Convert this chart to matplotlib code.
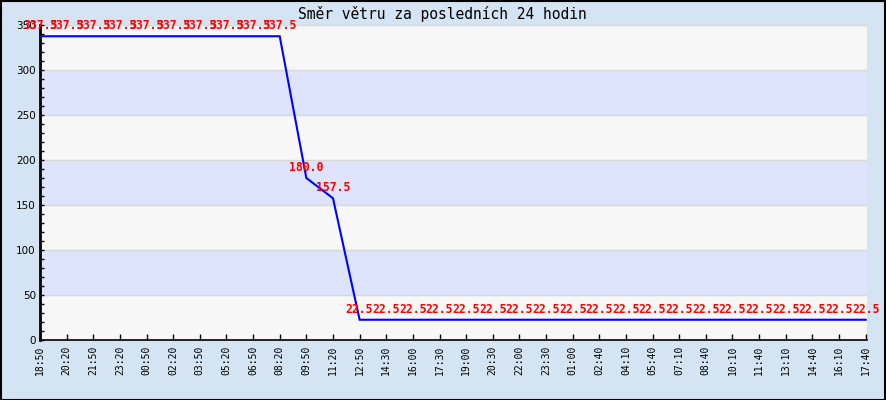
import matplotlib
matplotlib.use("Agg")
import matplotlib.pyplot as plt
from matplotlib.patches import Rectangle
from matplotlib.ticker import MultipleLocator

title = "Směr větru za posledních 24 hodin"
times = ["18:50", "20:20", "21:50", "23:20", "00:50", "02:20", "03:50", "05:20",
         "06:50", "08:20", "09:50", "11:20", "12:50", "14:30", "16:00", "17:30",
         "19:00", "20:30", "22:00", "23:30", "01:00", "02:40", "04:10", "05:40",
         "07:10", "08:40", "10:10", "11:40", "13:10", "14:40", "16:10", "17:40"]
values = [337.5] * 10 + [180.0, 157.5] + [22.5] * 20

fig_bg = "#d4e4f2"
fig = plt.figure(figsize=(8.86, 4.0), dpi=100, facecolor=fig_bg)
W, H = 886, 400
left, right, top, bottom = 40, 867, 25, 340
ax = fig.add_axes([left / W, 1 - bottom / H, (right - left) / W, (bottom - top) / H])
ax.set_facecolor("#f7f7f7")

x = list(range(len(times)))
ax.set_xlim(0, len(times) - 1 + 0.05)
ax.set_ylim(0, 350)

# bands
for lo in range(50, 350, 100):
    ax.axhspan(lo, lo + 50, color="#dde4fc", zorder=0, lw=0)
for yv in range(50, 351, 50):
    ax.axhline(yv, color="#d8d8d8", lw=1, zorder=0.5)

ax.plot(x, values, color="#0000ff", lw=1.5, zorder=3, solid_joinstyle="miter")

for xi, v in zip(x, values):
    ax.annotate(f"{v:.1f}", (xi, v), xytext=(0, 7.5), textcoords="offset points",
                ha="center", va="center", color="#ff0000", fontsize=8.3,
                fontweight="bold", family="DejaVu Sans Mono", zorder=4,
                annotation_clip=False)

ax.set_xticks(x)
ax.set_xticklabels(times, rotation=90, family="DejaVu Sans Mono", fontsize=7)
ax.yaxis.set_major_locator(MultipleLocator(50))
ax.yaxis.set_minor_locator(MultipleLocator(10))
ax.tick_params(axis="y", which="both", direction="in", length=3, width=1,
               labelsize=7.5, pad=3)
ax.tick_params(axis="x", direction="in", length=4, width=1, pad=4)

for s in ["top", "right"]:
    ax.spines[s].set_visible(False)
ax.spines["left"].set_linewidth(2)
ax.spines["bottom"].set_linewidth(1.2)

fig.text(442 / W, 1 - 14 / H, title, ha="center", va="center",
         family="DejaVu Sans Mono", fontsize=10.5)

fig.patches.append(Rectangle((0.5 / W, 0.5 / H), 1 - 1.5 / W, 1 - 1.5 / H,
                             transform=fig.transFigure, fill=False,
                             edgecolor="black", lw=1.5))

fig.savefig("out.png", dpi=100, facecolor=fig_bg)
